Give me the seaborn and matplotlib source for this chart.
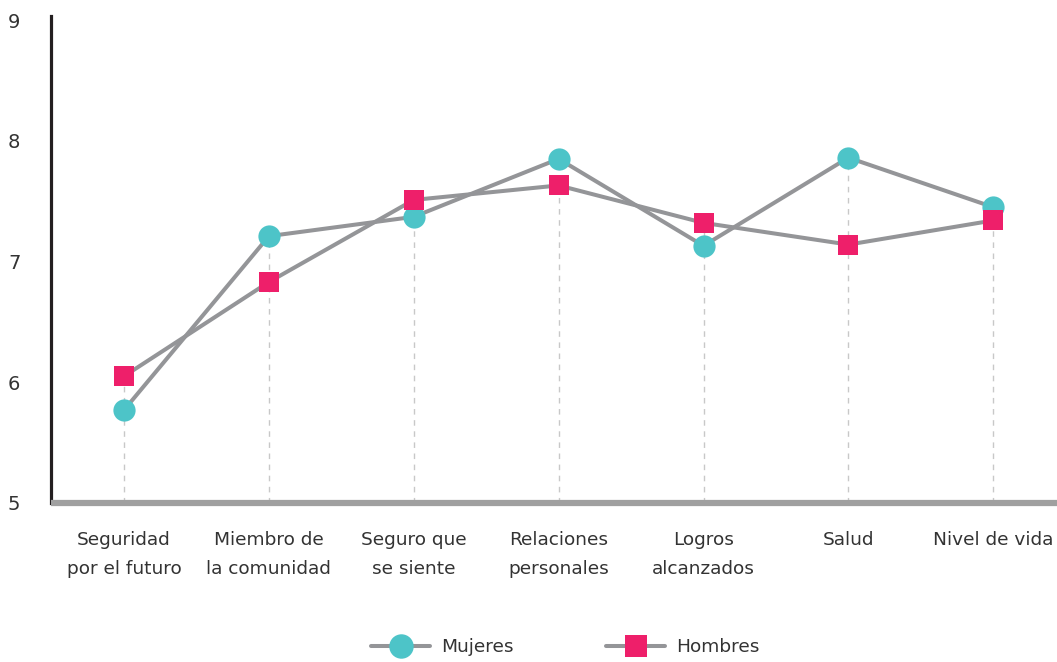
import matplotlib
matplotlib.use("Agg")
import matplotlib.pyplot as plt
import seaborn as sns
import pandas as pd
import numpy as np

categories = ["Seguridad\npor el futuro", "Miembro de\nla comunidad", "Seguro que\nse siente",
              "Relaciones\npersonales", "Logros\nalcanzados", "Salud", "Nivel de vida"]
mujeres = [5.77, 7.21, 7.37, 7.85, 7.13, 7.86, 7.45]
hombres = [6.05, 6.83, 7.51, 7.63, 7.32, 7.14, 7.34]
y_ticks = [5, 6, 7, 8, 9]

sns.set_theme(style="white")
plt.rcParams['font.family'] = ['DejaVu Sans']

teal = "#4DC4C8"
pink = "#EE1F6A"
gray = "#949598"
text_c = "#333333"

fig = plt.figure(figsize=(10.57, 6.62), dpi=100)
ax = fig.add_axes([51/1057, 1 - 503/662, (1057-51)/1057, (503-20)/662])

x = np.arange(len(categories))
df = pd.DataFrame({"x": np.concatenate([x, x]),
                   "valor": mujeres + hombres,
                   "serie": ["Mujeres"] * len(x) + ["Hombres"] * len(x)})

tops = np.maximum(mujeres, hombres)
ax.vlines(x, 5, tops, colors="#c8c8c8", linestyles=(0, (4, 4)), linewidth=1, zorder=1)

sns.lineplot(data=df[df.serie == "Mujeres"], x="x", y="valor", ax=ax, color=gray,
             linewidth=2.9, marker="o", markersize=16, markerfacecolor=teal,
             markeredgecolor=teal, markeredgewidth=0, label="Mujeres", zorder=3)
sns.lineplot(data=df[df.serie == "Hombres"], x="x", y="valor", ax=ax, color=gray,
             linewidth=2.9, marker="s", markersize=14.5, markerfacecolor=pink,
             markeredgecolor=pink, markeredgewidth=0, label="Hombres", zorder=3)

ax.set_xlim(-0.504, 6.44)
ax.set_ylim(5, 9)
ax.set_yticks(y_ticks)
ax.set_yticklabels([str(v) for v in y_ticks])
ax.set_xticks(x)
ax.set_xticklabels(categories, linespacing=1.8)
ax.tick_params(axis="x", length=0, pad=20, labelsize=13.3, labelcolor=text_c)
ax.tick_params(axis="y", length=0, pad=22, labelsize=14, labelcolor=text_c)
ax.set_xlabel("")
ax.set_ylabel("")

for s in ["top", "right"]:
    ax.spines[s].set_visible(False)
ax.spines["left"].set_color("#231f20")
ax.spines["left"].set_linewidth(2.3)
ax.spines["left"].set_bounds(5, 9.03)
ax.spines["bottom"].set_color("#a0a0a0")
ax.spines["bottom"].set_linewidth(4.5)
ax.spines["bottom"].set_capstyle("butt")

ax.get_legend().remove()
handles, labels = ax.get_legend_handles_labels()
fig.legend(handles, labels, loc="center", bbox_to_anchor=(0.535, 1 - 647/662), ncol=2,
           frameon=False, fontsize=13.3, handlelength=3.2, columnspacing=5.0,
           handletextpad=0.6, labelcolor=text_c, markerscale=1.1)

fig.savefig("out.png", dpi=100)
